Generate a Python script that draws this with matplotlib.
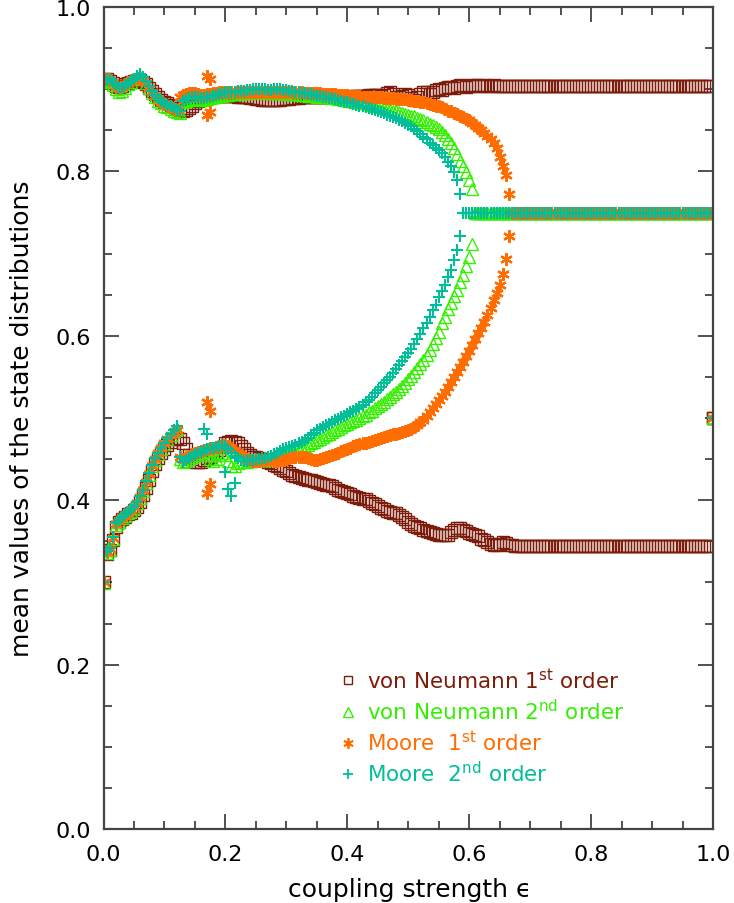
import numpy as np
import matplotlib
matplotlib.use('Agg')
import matplotlib.pyplot as plt
from matplotlib.lines import Line2D
from matplotlib.ticker import MultipleLocator, FormatStrFormatter

# ---------------- data ----------------
eps = np.linspace(0.0, 1.0, 201)   # coupling strength grid (step 0.005)

# von Neumann 1st order (brown squares)
vn1_upper = ([0.912, 0.912, 0.910, 0.907, 0.904, 0.903, 0.904, 0.906, 0.908, 0.909,
              0.910, 0.911, 0.911, 0.909, 0.906, 0.902, 0.898, 0.894, 0.890, 0.887,
              0.885, 0.883, 0.881, 0.879, 0.877, 0.875, 0.874, 0.875, 0.877, 0.880,
              0.883, 0.886, 0.888, 0.889, 0.890, 0.891, 0.891, 0.892, 0.892, 0.892,
              0.892, 0.892, 0.892, 0.892, 0.891, 0.891, 0.890, 0.890, 0.889, 0.889,
              0.888, 0.888, 0.887, 0.887,
              0.887, 0.887, 0.887, 0.887, 0.887, 0.888, 0.888, 0.888, 0.889, 0.889,
              0.889, 0.890, 0.890, 0.890, 0.890, 0.890, 0.891, 0.891, 0.891, 0.891,
              0.891, 0.891, 0.891, 0.891, 0.891, 0.891, 0.891, 0.891, 0.892, 0.892,
              0.892, 0.892, 0.892, 0.893, 0.893, 0.893, 0.893, 0.892, 0.893, 0.895,
              0.896, 0.894, 0.891, 0.890, 0.892, 0.894, 0.893, 0.889, 0.887, 0.890,
              0.894, 0.897, 0.896, 0.894, 0.896, 0.899, 0.900, 0.899, 0.901, 0.903,
              0.903, 0.902, 0.904, 0.905, 0.904, 0.903, 0.904, 0.905, 0.904, 0.905,
              0.904, 0.905, 0.904, 0.904, 0.905, 0.904, 0.904]
             + [0.904] * 69 + [0.500])
vn1_lower = ([0.301, 0.335, 0.340, 0.352, 0.368, 0.373, 0.377, 0.380, 0.383, 0.385,
              0.388, 0.392, 0.398, 0.406, 0.415, 0.425, 0.435, 0.444, 0.451, 0.457,
              0.462, 0.467, 0.471, 0.474, 0.476, 0.474, 0.470, 0.462, 0.455, 0.450,
              0.447, 0.446, 0.447, 0.449, 0.451, 0.453, 0.455, 0.458, 0.461, 0.465,
              0.469, 0.471, 0.472, 0.471, 0.469, 0.466, 0.462, 0.458, 0.455, 0.453,
              0.452, 0.451, 0.450, 0.449,
              0.447, 0.445, 0.443, 0.441, 0.439, 0.437, 0.435, 0.433, 0.431, 0.430,
              0.428, 0.427, 0.426, 0.425, 0.424, 0.423, 0.422, 0.421, 0.420, 0.419,
              0.418, 0.417, 0.415, 0.413, 0.411, 0.410, 0.409, 0.407, 0.405, 0.404,
              0.403, 0.402, 0.401, 0.399, 0.397, 0.395, 0.393, 0.391, 0.389, 0.387,
              0.386, 0.385, 0.384, 0.382, 0.380, 0.377, 0.374, 0.371, 0.369, 0.367,
              0.366, 0.364, 0.363, 0.361, 0.360, 0.359, 0.358, 0.358, 0.358, 0.358,
              0.361, 0.364, 0.366, 0.366, 0.364, 0.362, 0.360, 0.359, 0.358, 0.356,
              0.353, 0.351, 0.349, 0.347, 0.346, 0.345, 0.347, 0.349, 0.348, 0.346,
              0.345, 0.344]
             + [0.344] * 64 + [0.500])

# von Neumann 2nd order (green triangles)
vn2_upper = ([0.911, 0.910, 0.909, 0.905, 0.900, 0.897, 0.898, 0.902, 0.906, 0.909,
              0.912, 0.914, 0.915, 0.912, 0.907, 0.901, 0.895, 0.890, 0.886, 0.883,
              0.880, 0.878, 0.876, 0.874, 0.872, 0.871, 0.884, 0.886, 0.887, 0.888,
              0.888, 0.888, 0.887, 0.887, 0.888, 0.889, 0.890, 0.891, 0.892, 0.892,
              0.893, 0.893, 0.894, 0.894, 0.894, 0.895, 0.895, 0.895, 0.895, 0.896,
              0.896, 0.896, 0.896, 0.895,
              0.895, 0.895, 0.895, 0.895, 0.895, 0.895, 0.894, 0.894, 0.894, 0.894,
              0.893, 0.893, 0.893, 0.892, 0.892, 0.892, 0.891, 0.891, 0.891, 0.890,
              0.890, 0.889, 0.889, 0.888, 0.888, 0.887, 0.887, 0.886, 0.886, 0.885,
              0.884, 0.883, 0.883, 0.882, 0.881, 0.880, 0.879, 0.878, 0.877, 0.876,
              0.875, 0.874, 0.873, 0.872, 0.871, 0.870, 0.869, 0.868, 0.867, 0.865,
              0.864, 0.862, 0.860, 0.858, 0.856, 0.854, 0.851, 0.848, 0.844, 0.840,
              0.835, 0.829, 0.821, 0.813, 0.806, 0.799, 0.789, 0.778]
             + [0.749] * 78 + [0.500])
vn2_lower = ([0.299, 0.336, 0.340, 0.353, 0.370, 0.374, 0.378, 0.381, 0.384, 0.387,
              0.391, 0.396, 0.403, 0.411, 0.421, 0.431, 0.441, 0.449, 0.456, 0.462,
              0.468, 0.474, 0.479, 0.484, 0.487, 0.450, 0.446, 0.448, 0.450, 0.453,
              0.455, 0.457, 0.458, 0.460, 0.455, 0.450, 0.448, 0.450, 0.455, 0.458,
              0.455, 0.448, 0.442, 0.441, 0.445, 0.447, 0.447, 0.447, 0.448, 0.448,
              0.449, 0.449, 0.449, 0.449,
              0.449, 0.450, 0.451, 0.452, 0.453, 0.455, 0.456, 0.457, 0.458, 0.459,
              0.461, 0.463, 0.465, 0.467, 0.469, 0.471, 0.473, 0.475, 0.477, 0.479,
              0.481, 0.483, 0.485, 0.487, 0.489, 0.491, 0.493, 0.495, 0.496, 0.498,
              0.500, 0.502, 0.504, 0.507, 0.509, 0.512, 0.514, 0.517, 0.520, 0.523,
              0.526, 0.529, 0.532, 0.535, 0.539, 0.543, 0.547, 0.551, 0.556, 0.561,
              0.566, 0.571, 0.577, 0.583, 0.590, 0.597, 0.605, 0.615, 0.623, 0.632,
              0.640, 0.648, 0.656, 0.665, 0.674, 0.685, 0.696, 0.712]
             + [0.749] * 78 + [0.500])

# Moore 1st order (orange asterisks)
mo1_upper = ([0.913, 0.912, 0.911, 0.908, 0.904, 0.902, 0.903, 0.906, 0.909, 0.911,
              0.913, 0.914, 0.913, 0.911, 0.907, 0.902, 0.897, 0.892, 0.888, 0.885,
              0.882, 0.880, 0.878, 0.876, 0.875, 0.890, 0.893, 0.894, 0.895, 0.895,
              0.895, 0.894, 0.893, 0.893, 0.894, 0.894, 0.895, 0.895, 0.896, 0.896,
              0.896, 0.896, 0.896, 0.896, 0.896, 0.896, 0.896, 0.896, 0.896, 0.896,
              0.896, 0.896, 0.896, 0.896,
              0.896, 0.896, 0.896, 0.896, 0.896, 0.896, 0.896, 0.896, 0.896, 0.896,
              0.896, 0.896, 0.895, 0.895, 0.895, 0.895, 0.895, 0.895, 0.894, 0.894,
              0.894, 0.894, 0.894, 0.893, 0.893, 0.893, 0.893, 0.892, 0.892, 0.892,
              0.892, 0.891, 0.891, 0.891, 0.890, 0.890, 0.890, 0.890, 0.889, 0.889,
              0.889, 0.889, 0.888, 0.888, 0.888, 0.888, 0.887, 0.887, 0.886, 0.886,
              0.885, 0.884, 0.883, 0.882, 0.881, 0.880, 0.879, 0.878, 0.876, 0.874,
              0.873, 0.871, 0.870, 0.868, 0.866, 0.864, 0.862, 0.859, 0.856, 0.853,
              0.850, 0.847, 0.843, 0.839, 0.834, 0.828, 0.818, 0.807, 0.796, 0.773]
             + [0.750] * 66 + [0.500])
mo1_lower = ([0.300, 0.337, 0.341, 0.354, 0.371, 0.375, 0.379, 0.382, 0.385, 0.388,
              0.392, 0.397, 0.404, 0.412, 0.422, 0.432, 0.442, 0.450, 0.457, 0.463,
              0.469, 0.474, 0.479, 0.483, 0.485, 0.452, 0.450, 0.452, 0.454, 0.456,
              0.458, 0.459, 0.460, 0.461, 0.462, 0.463, 0.464, 0.465, 0.466, 0.467,
              0.467, 0.466, 0.464, 0.461, 0.458, 0.455, 0.452, 0.450, 0.449, 0.448,
              0.448, 0.448, 0.449, 0.449,
              0.450, 0.449, 0.448, 0.448, 0.449, 0.449, 0.450, 0.451, 0.452, 0.453,
              0.453, 0.453, 0.452, 0.451, 0.450, 0.449, 0.449, 0.450, 0.451, 0.452,
              0.454, 0.455, 0.456, 0.458, 0.460, 0.461, 0.462, 0.464, 0.466, 0.467,
              0.468, 0.469, 0.470, 0.471, 0.472, 0.473, 0.475, 0.476, 0.477, 0.478,
              0.479, 0.480, 0.481, 0.482, 0.483, 0.484, 0.485, 0.487, 0.489, 0.492,
              0.495, 0.498, 0.502, 0.507, 0.512, 0.517, 0.522, 0.527, 0.532, 0.538,
              0.544, 0.550, 0.556, 0.562, 0.568, 0.575, 0.582, 0.589, 0.596, 0.603,
              0.610, 0.617, 0.625, 0.634, 0.643, 0.652, 0.662, 0.675, 0.693, 0.721]
             + [0.750] * 66 + [0.500])
mo1_extra_x = [0.170, 0.175, 0.175, 0.170, 0.170, 0.175, 0.170, 0.175]
mo1_extra_y = [0.519, 0.509, 0.420, 0.409, 0.916, 0.913, 0.869, 0.872]

# Moore 2nd order (teal plus signs)
mo2_upper = ([0.912, 0.911, 0.912, 0.909, 0.905, 0.902, 0.902, 0.905, 0.908, 0.910,
              0.913, 0.916, 0.918, 0.915, 0.910, 0.904, 0.898, 0.893, 0.889, 0.886,
              0.883, 0.881, 0.879, 0.877, 0.875, 0.874, 0.886, 0.888, 0.889, 0.890,
              0.890, 0.890, 0.889, 0.889, 0.890, 0.891, 0.892, 0.893, 0.894, 0.895,
              0.896, 0.896, 0.897, 0.897, 0.898, 0.898, 0.898, 0.899, 0.899, 0.900,
              0.900, 0.900, 0.900, 0.900,
              0.899, 0.899, 0.900, 0.900, 0.900, 0.899, 0.899, 0.898, 0.898, 0.897,
              0.896, 0.895, 0.895, 0.894, 0.894, 0.893, 0.892, 0.892, 0.891, 0.890,
              0.889, 0.889, 0.888, 0.887, 0.886, 0.885, 0.884, 0.883, 0.882, 0.881,
              0.880, 0.879, 0.878, 0.877, 0.876, 0.875, 0.874, 0.872, 0.871, 0.869,
              0.868, 0.866, 0.865, 0.863, 0.861, 0.859, 0.857, 0.855, 0.852, 0.849,
              0.846, 0.842, 0.839, 0.835, 0.832, 0.829, 0.826, 0.822, 0.817, 0.812,
              0.806, 0.799, 0.789, 0.772]
             + [0.750] * 82 + [0.500])
mo2_lower = ([0.300, 0.338, 0.342, 0.355, 0.372, 0.376, 0.380, 0.383, 0.386, 0.389,
              0.393, 0.398, 0.405, 0.413, 0.423, 0.433, 0.443, 0.451, 0.458, 0.464,
              0.470, 0.476, 0.481, 0.486, 0.490, 0.452, 0.447, 0.449, 0.451, 0.454,
              0.456, 0.458, 0.459, 0.461, 0.462, 0.463, 0.464, 0.465, 0.466, 0.467,
              0.466, 0.462, 0.458, 0.454, 0.451, 0.449, 0.448, 0.448, 0.449, 0.449,
              0.450, 0.450, 0.451, 0.451,
              0.452, 0.454, 0.456, 0.458, 0.460, 0.462, 0.463, 0.465, 0.466, 0.467,
              0.469, 0.471, 0.473, 0.476, 0.479, 0.482, 0.485, 0.487, 0.489, 0.491,
              0.493, 0.495, 0.497, 0.499, 0.501, 0.503, 0.505, 0.507, 0.509, 0.511,
              0.513, 0.516, 0.519, 0.522, 0.526, 0.530, 0.534, 0.538, 0.542, 0.546,
              0.550, 0.555, 0.560, 0.564, 0.569, 0.574, 0.579, 0.584, 0.590, 0.596,
              0.602, 0.609, 0.616, 0.623, 0.631, 0.638, 0.647, 0.654, 0.662, 0.671,
              0.680, 0.692, 0.704, 0.721]
             + [0.750] * 82 + [0.500])
mo2_extra_x = [0.165, 0.170, 0.200, 0.205, 0.210, 0.215]
mo2_extra_y = [0.487, 0.480, 0.434, 0.414, 0.405, 0.421]

labels = ['von Neumann 1$^{\\rm st}$ order',
          'von Neumann 2$^{\\rm nd}$ order',
          'Moore  1$^{\\rm st}$ order',
          'Moore  2$^{\\rm nd}$ order']
colors = ['#7d1c0b', '#33f000', '#ff6c00', '#00be98']

# ---------------- figure ----------------
plt.rcParams['font.family'] = ['DejaVu Sans']
plt.rcParams['mathtext.fontset'] = 'dejavusans'

fig = plt.figure(figsize=(7.34, 9.04), dpi=100)
ax = fig.add_axes([103.5 / 734, (904 - 830) / 904, 609.5 / 734, 822 / 904])

styles = [
    dict(marker='s', ms=8.0, mfc='none', mew=1.0),
    dict(marker='^', ms=8.5, mfc='none', mew=1.0),
    dict(marker=(6, 2, 0), ms=9.0, mew=1.6),
    dict(marker='+', ms=8.0, mew=1.5),
]
series = [(vn1_upper, vn1_lower), (vn2_upper, vn2_lower),
          (mo1_upper, mo1_lower), (mo2_upper, mo2_lower)]

for (up, lo), col, st in zip(series, colors, styles):
    ax.plot(eps, up, ls='none', color=col, mec=col, **st)
    ax.plot(eps, lo, ls='none', color=col, mec=col, **st)

ax.plot(mo1_extra_x, mo1_extra_y, ls='none', color=colors[2], mec=colors[2], **styles[2])
ax.plot(mo2_extra_x, mo2_extra_y, ls='none', color=colors[3], mec=colors[3], **styles[3])

ax.set_xlim(0, 1)
ax.set_ylim(0, 1)
ax.xaxis.set_major_locator(MultipleLocator(0.2))
ax.yaxis.set_major_locator(MultipleLocator(0.2))
ax.xaxis.set_minor_locator(MultipleLocator(0.05))
ax.yaxis.set_minor_locator(MultipleLocator(0.05))
ax.xaxis.set_major_formatter(FormatStrFormatter('%.1f'))
ax.yaxis.set_major_formatter(FormatStrFormatter('%.1f'))

ax.tick_params(which='both', direction='in', top=True, right=True,
               color='#333333', width=1.2)
ax.tick_params(which='major', length=11)
ax.tick_params(which='minor', length=5.5)
ax.tick_params(axis='x', which='major', labelsize=16, pad=11)
ax.tick_params(axis='y', which='major', labelsize=16, pad=9)
for sp in ax.spines.values():
    sp.set_color('#444444')
    sp.set_linewidth(1.6)

ax.set_xlabel('coupling strength ϵ', fontsize=18, va='center')
ax.xaxis.set_label_coords(0.503, -0.073)
ax.set_ylabel('mean values of the state distributions', fontsize=18, va='center')
ax.yaxis.set_label_coords(-0.134, 0.5)

leg_sizes = [6.0, 6.5, 7.5, 7.5]
handles = []
for col, st, s in zip(colors, styles, leg_sizes):
    kw = dict(st)
    kw['ms'] = s
    kw['mew'] = 1.0 if kw['marker'] in ('s', '^') else 1.3
    handles.append(Line2D([], [], ls='none', color=col, mec=col, **kw))
leg = ax.legend(handles, labels, loc='upper left', bbox_to_anchor=(0.385, 0.197),
                frameon=False, fontsize=15.5, handlelength=0.9, handletextpad=0.45,
                labelspacing=0.28, borderpad=0, borderaxespad=0)
for t, c in zip(leg.get_texts(), colors):
    t.set_color(c)

fig.savefig('out.png', dpi=100)
